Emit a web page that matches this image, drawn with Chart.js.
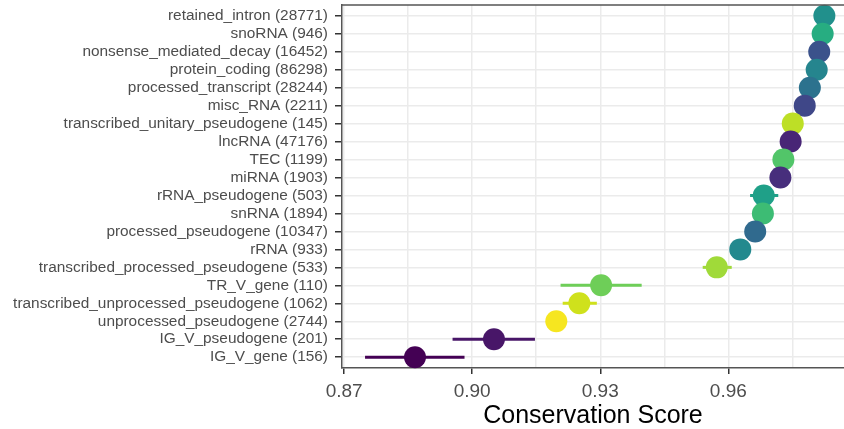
<!DOCTYPE html>
<html>
<head>
<meta charset="utf-8">
<script src="https://cdn.jsdelivr.net/npm/chart.js@4/dist/chart.umd.min.js"></script>
<style>
  html, body { margin: 0; padding: 0; background: #ffffff; }
  #wrap { width: 844px; height: 429px; }
</style>
</head>
<body>
<div id="wrap"><canvas id="c" width="844" height="429"></canvas></div>
<script>
// Gene biotypes, top row first, with transcript counts
const biotypes = [
  'retained_intron', 'snoRNA', 'nonsense_mediated_decay', 'protein_coding',
  'processed_transcript', 'misc_RNA', 'transcribed_unitary_pseudogene', 'lncRNA',
  'TEC', 'miRNA', 'rRNA_pseudogene', 'snRNA', 'processed_pseudogene', 'rRNA',
  'transcribed_processed_pseudogene', 'TR_V_gene', 'transcribed_unprocessed_pseudogene',
  'unprocessed_pseudogene', 'IG_V_pseudogene', 'IG_V_gene'
];
const counts = [
  28771, 946, 16452, 86298, 28244, 2211, 145, 47176, 1199, 1903,
  503, 1894, 10347, 933, 533, 110, 1062, 2744, 201, 156
];
// Mean conservation score and its interval
const scores = [
  0.9825, 0.9821, 0.9813, 0.9807, 0.9791, 0.9779, 0.9751, 0.9746, 0.9729, 0.9722,
  0.9683, 0.9681, 0.9663, 0.9628, 0.9573, 0.9302, 0.9251, 0.9197, 0.9051, 0.8866
];
const lower = [
  0.9822, 0.9815, 0.9811, 0.9806, 0.9788, 0.9772, 0.9733, 0.9742, 0.9720, 0.9712,
  0.9651, 0.9667, 0.9660, 0.9617, 0.9540, 0.9207, 0.9212, 0.9187, 0.8954, 0.8749
];
const upper = [
  0.9828, 0.9827, 0.9815, 0.9808, 0.9794, 0.9786, 0.9769, 0.9750, 0.9738, 0.9732,
  0.9717, 0.9695, 0.9666, 0.9639, 0.9608, 0.9397, 0.9292, 0.9207, 0.9147, 0.8982
];
const dotColors = [
  '#21908C', '#27AD81', '#3B528B', '#25858E', '#2C728E', '#3F4788', '#BDDF26', '#482576',
  '#52C569', '#472E7C', '#1FA088', '#3DBC74', '#306A8E', '#23898E', '#A0DA39', '#6ECE58',
  '#CFE11C', '#F6E620', '#481668', '#440154'
];
const xTickValues = [0.87, 0.885, 0.90, 0.915, 0.93, 0.945, 0.96, 0.975];
const xLabelValues = [0.87, 0.90, 0.93, 0.96];

const rowLabels = biotypes.map((b, i) => b + ' (' + counts[i] + ')');
const isMajor = v => xLabelValues.some(m => Math.abs(m - v) < 1e-9);

Chart.defaults.font.family = '"Liberation Sans", Arial, Helvetica, sans-serif';

// Horizontal interval lines behind the dots
const intervalLines = {
  id: 'intervalLines',
  beforeDatasetsDraw(chart) {
    const { ctx, chartArea, scales: { x, y } } = chart;
    ctx.save();
    ctx.beginPath();
    ctx.rect(chartArea.left, chartArea.top, chartArea.right - chartArea.left, chartArea.bottom - chartArea.top);
    ctx.clip();
    ctx.lineWidth = 3;
    ctx.lineCap = 'butt';
    scores.forEach((s, i) => {
      const py = y.getPixelForValue(i);
      ctx.strokeStyle = dotColors[i];
      ctx.beginPath();
      ctx.moveTo(x.getPixelForValue(lower[i]), py);
      ctx.lineTo(x.getPixelForValue(upper[i]), py);
      ctx.stroke();
    });
    ctx.restore();
  }
};

// Panel outline on top
const panelBorder = {
  id: 'panelBorder',
  afterDatasetsDraw(chart) {
    const { ctx, chartArea } = chart;
    ctx.save();
    ctx.strokeStyle = '#555555';
    ctx.lineWidth = 1.5;
    ctx.beginPath();
    ctx.moveTo(chartArea.left, chartArea.top);
    ctx.lineTo(chartArea.right, chartArea.top);
    ctx.stroke();
    ctx.restore();
  }
};

new Chart(document.getElementById('c'), {
  type: 'scatter',
  data: {
    datasets: [{
      data: scores.map((s, i) => ({ x: s, y: i })),
      pointBackgroundColor: dotColors,
      pointBorderWidth: 0,
      pointRadius: 11,
      pointHoverRadius: 11,
      clip: false
    }]
  },
  options: {
    responsive: false,
    animation: false,
    events: [],
    layout: { autoPadding: false, padding: { top: 5, right: 0, left: 0, bottom: 0 } },
    plugins: { legend: { display: false }, tooltip: { enabled: false } },
    scales: {
      x: {
        type: 'linear',
        min: 0.8695,
        max: 0.9871,
        afterBuildTicks: s => { s.ticks = xTickValues.map(v => ({ value: v })); },
        afterFit: s => { s.height = 61; s.paddingLeft = 0; s.paddingRight = 0; },
        ticks: {
          autoSkip: false,
          maxRotation: 0,
          padding: 6,
          color: '#4D4D4D',
          font: { size: 19 },
          callback: v => isMajor(v) ? v.toFixed(2) : ''
        },
        grid: {
          color: '#EBEBEB',
          lineWidth: 1.5,
          tickLength: 6,
          tickWidth: 1.5,
          tickColor: c => (c.tick && isMajor(c.tick.value)) ? '#333333' : 'rgba(0,0,0,0)'
        },
        border: { display: true, color: '#555555', width: 1.5 },
        title: {
          display: true,
          text: 'Conservation Score',
          color: '#000000',
          font: { size: 25, lineHeight: 1.0 },
          padding: { top: 0, bottom: 0 }
        }
      },
      y: {
        type: 'linear',
        reverse: true,
        min: -0.6,
        max: 19.6,
        afterBuildTicks: s => { s.ticks = biotypes.map((b, i) => ({ value: i })); },
        afterFit: s => { s.width = 342; s.paddingTop = 0; s.paddingBottom = 0; },
        ticks: {
          autoSkip: false,
          padding: 7,
          color: '#4D4D4D',
          font: { size: 15.4 },
          callback: v => rowLabels[v]
        },
        grid: {
          color: '#EBEBEB',
          lineWidth: 1.5,
          tickLength: 7,
          tickWidth: 1.5,
          tickColor: '#333333'
        },
        border: { display: true, color: '#555555', width: 1.5 }
      }
    }
  },
  plugins: [intervalLines, panelBorder]
});
</script>
</body>
</html>
